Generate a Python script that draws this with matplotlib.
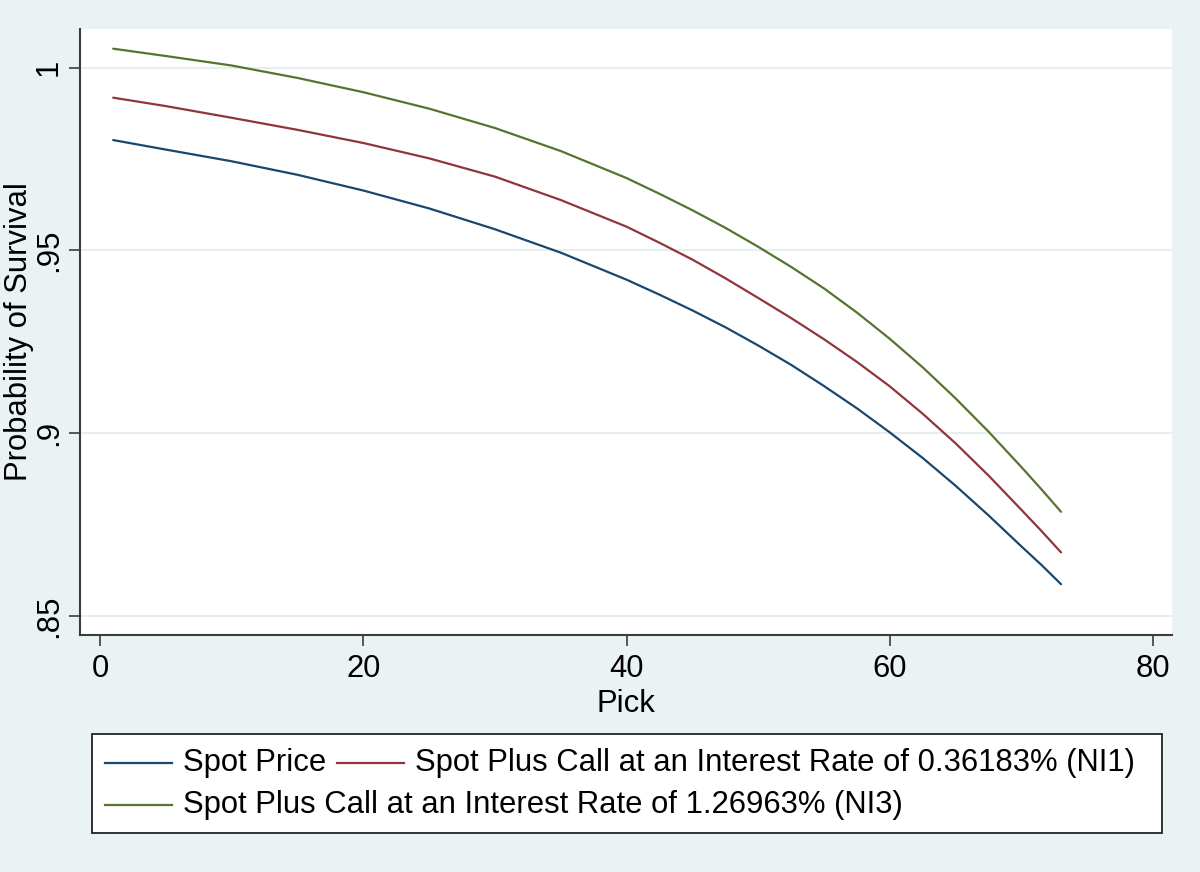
import matplotlib
matplotlib.use("Agg")
import matplotlib.pyplot as plt
from matplotlib.lines import Line2D
from matplotlib.patches import Rectangle

plt.rcParams['font.family'] = ['Liberation Sans', 'DejaVu Sans']

# values
pick = [1, 5, 10, 15, 20, 25, 30, 35, 40, 42.5, 45, 47.5, 50, 52.5, 55,
        57.5, 60, 62.5, 65, 67.5, 70, 71.5, 73]
spot = [0.9802, 0.9776, 0.9744, 0.9707, 0.9664, 0.9615, 0.9558, 0.9494,
        0.9420, 0.9379, 0.9336, 0.9290, 0.9240, 0.9187, 0.9129, 0.9068,
        0.9002, 0.8932, 0.8856, 0.8775, 0.8690, 0.8640, 0.8587]
ni1 = [0.9918, 0.9895, 0.9863, 0.9830, 0.9794, 0.9752, 0.9702, 0.9638,
       0.9565, 0.9521, 0.9475, 0.9424, 0.9370, 0.9315, 0.9257, 0.9195,
       0.9128, 0.9053, 0.8972, 0.8884, 0.8790, 0.8733, 0.8674]
ni3 = [1.0052, 1.0032, 1.0006, 0.9972, 0.9933, 0.9888, 0.9835, 0.9772,
       0.9698, 0.9655, 0.9610, 0.9562, 0.9510, 0.9455, 0.9396, 0.9330,
       0.9258, 0.9180, 0.9095, 0.9004, 0.8907, 0.8847, 0.8785]

labels = ["Spot Price",
          "Spot Plus Call at an Interest Rate of 0.36183% (NI1)",
          "Spot Plus Call at an Interest Rate of 1.26963% (NI3)"]
colors = ["#1A476F", "#90353B", "#55752F"]

xticks = [0, 20, 40, 60, 80]
yticks = [0.85, 0.9, 0.95, 1.0]
yticklabels = [".85", ".9", ".95", "1"]

bg = "#EAF2F3"
axcol = "#3C3C3C"
fs = 22.3

fig = plt.figure(figsize=(12, 8.72), dpi=100, facecolor=bg)
ax = fig.add_axes([80/1200, 1 - 635/872, 1092/1200, 606/872])
ax.set_facecolor("white")

for ys, c in zip([spot, ni1, ni3], colors):
    ax.plot(pick, ys, color=c, lw=1.6, solid_capstyle="round",
            solid_joinstyle="round")

ax.set_xlim(-1.52, 81.43)
ax.set_ylim(0.84479, 1.01059)
ax.set_xticks(xticks)
ax.set_xticklabels([str(t) for t in xticks])
ax.set_yticks(yticks)
ax.set_yticklabels(yticklabels, rotation=90, va="center")

ax.yaxis.grid(True, color="#E6EEF0", lw=1.5)
ax.set_axisbelow(True)

for s in ["top", "right"]:
    ax.spines[s].set_visible(False)
for s in ["left", "bottom"]:
    ax.spines[s].set_color(axcol)
    ax.spines[s].set_linewidth(1.5)

ax.tick_params(axis="both", direction="out", length=8, width=1.2,
               color=axcol, labelsize=fs, labelcolor="black")
ax.tick_params(axis="x", pad=6)
ax.tick_params(axis="y", pad=3.5)

ax.set_xlabel("Pick", fontsize=fs, labelpad=3)
ax.set_ylabel("Probability of Survival", fontsize=fs)
ax.yaxis.set_label_coords(-0.0425, 0.5)

# legend box drawn in figure coordinates (Stata-like row layout)
W, H = 1200.0, 872.0
fig.add_artist(Rectangle((92/W, 1 - 833/H), (1162 - 92)/W, (833 - 734)/H,
                         transform=fig.transFigure, facecolor="white",
                         edgecolor="#222222", lw=1.3))
entries = [(105, 763, 0), (337, 763, 1), (105, 805, 2)]
for x0, yc, i in entries:
    fig.add_artist(Line2D([x0/W, (x0 + 67)/W], [1 - yc/H, 1 - yc/H],
                          transform=fig.transFigure, color=colors[i], lw=1.6))
    fig.text((x0 + 78)/W, 1 - yc/H, labels[i], fontsize=fs,
             va="center", ha="left")

fig.savefig("out.png", dpi=100, facecolor=bg)
